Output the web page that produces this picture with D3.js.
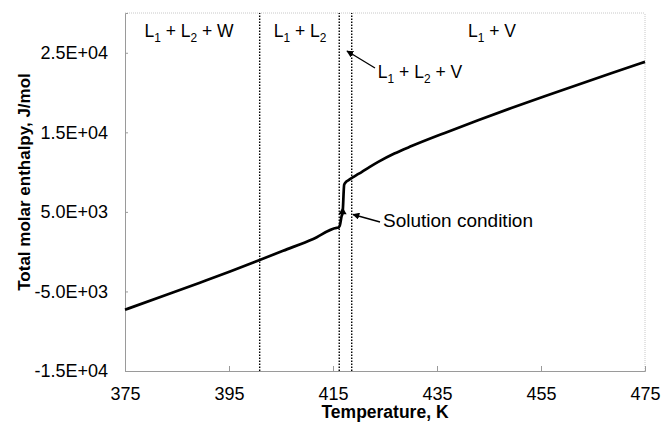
<!DOCTYPE html>
<html>
<head>
<meta charset="utf-8">
<script src="https://cdn.jsdelivr.net/npm/d3@7"></script>
<style>
  html, body { margin: 0; padding: 0; background: #fff; }
  svg { display: block; font-family: "Liberation Sans", Arial, sans-serif; }
</style>
</head>
<body>
<svg id="chart" width="662" height="425"></svg>
<script>
// ---- data ----
const temperature = [375, 383, 389.4, 395.2, 400.9, 405.4, 411.2, 415.7, 416.0, 416.3, 416.65, 416.85, 417.15, 417.5, 418.0, 418.7, 419.5, 420.5, 422.0, 423.7, 426.8, 430.1, 436.5, 442.9, 449.3, 455.7, 462.1, 468.5, 475];
const enthalpy    = [-7300, -5420, -3900, -2500, -1050, 110, 1600, 3000, 3020, 3250, 4450, 4900, 8430, 8760, 9000, 9300, 9620, 10000, 10620, 11280, 12330, 13270, 14930, 16530, 18060, 19540, 20990, 22420, 23860];
const phaseBoundaries = [400.9, 416.2, 418.6];
const solutionT = [416.85];
const solutionH = [5000];
const xTicks = [375, 395, 415, 435, 455, 475];
const yTicks = [-15000, -5000, 5000, 15000, 25000];
const xDomain = [375, 475];
const yDomain = [-15000, 30000];
const xTitle = "Temperature, K";
const yTitle = "Total molar enthalpy, J/mol";

// ---- layout ----
const svg = d3.select("#chart");
const margin = { left: 125, right: 17, top: 13, bottom: 54 };
const W = 662, H = 425;
const x = d3.scaleLinear().domain(xDomain).range([margin.left, W - margin.right]);
const y = d3.scaleLinear().domain(yDomain).range([H - margin.bottom, margin.top]);

function sci(v) {
  if (v === 0) return "0.0E+00";
  const e = Math.floor(Math.log10(Math.abs(v)));
  const m = v / Math.pow(10, e);
  return m.toFixed(1) + "E" + (e < 0 ? "-" : "+") + String(Math.abs(e)).padStart(2, "0");
}

// frame (top/right light)
svg.append("line").attr("x1", x(xDomain[0])).attr("x2", x(xDomain[1]))
  .attr("y1", y(yDomain[1])).attr("y2", y(yDomain[1]))
  .attr("stroke", "#c8c8c8").attr("stroke-width", 1).attr("stroke-dasharray", "1,1");
svg.append("line").attr("x1", x(xDomain[1])).attr("x2", x(xDomain[1]))
  .attr("y1", y(yDomain[0])).attr("y2", y(yDomain[1]))
  .attr("stroke", "#c8c8c8").attr("stroke-width", 1).attr("stroke-dasharray", "1,1");

// axes
const xAxis = d3.axisBottom(x).tickValues(xTicks).tickSize(-5).tickPadding(16).tickFormat(d3.format("d"));
const yAxis = d3.axisLeft(y).tickValues(yTicks).tickSize(-3).tickPadding(17).tickFormat(sci);

const gx = svg.append("g").attr("transform", `translate(0,${y(yDomain[0])})`).call(xAxis);
const gy = svg.append("g").attr("transform", `translate(${x(xDomain[0])},0)`).call(yAxis);
[gx, gy].forEach(g => {
  g.select(".domain").attr("stroke", "#9a9a9a").attr("stroke-width", 1);
  g.selectAll(".tick line").attr("stroke", "#9a9a9a");
  g.selectAll(".tick text").attr("fill", "#000").attr("font-size", "18px")
    .attr("font-family", "Liberation Sans, Arial, sans-serif");
});

// phase boundaries
svg.append("g").selectAll("line").data(phaseBoundaries).join("line")
  .attr("x1", d => x(d)).attr("x2", d => x(d))
  .attr("y1", y(yDomain[0])).attr("y2", y(yDomain[1]))
  .attr("stroke", "#000").attr("stroke-width", 1.4).attr("stroke-dasharray", "1.5,1.5");

// enthalpy curve
const pts = temperature.map((t, i) => [t, enthalpy[i]]);
svg.append("path").datum(pts)
  .attr("d", d3.line().curve(d3.curveMonotoneX).x(d => x(d[0])).y(d => y(d[1])))
  .attr("fill", "none").attr("stroke", "#000").attr("stroke-width", 2.7)
  .attr("stroke-linejoin", "round");

// solution condition marker
svg.append("g").selectAll("path").data(solutionT.map((t, i) => [t, solutionH[i]])).join("path")
  .attr("transform", d => `translate(${x(d[0])},${y(d[1])})`)
  .attr("d", d3.symbol(d3.symbolTriangle, 28))
  .attr("fill", "#000");

// arrow marker
const defs = svg.append("defs");
defs.append("marker").attr("id", "ah").attr("viewBox", "0 0 10 10")
  .attr("refX", 9).attr("refY", 5).attr("markerWidth", 7).attr("markerHeight", 7)
  .attr("markerUnits", "userSpaceOnUse").attr("orient", "auto")
  .append("path").attr("d", "M0,0 L10,5 L0,10 z").attr("fill", "#000");

// region labels with subscripts (baseline shift carried to the next run)
function label(g, parts, size) {
  const t = g.append("text").attr("font-size", size + "px").attr("fill", "#000");
  let shift = 0;
  parts.forEach(p => {
    if (p.sub) {
      t.append("tspan").attr("font-size", (size * 0.68) + "px").attr("dy", size * 0.3 - shift).text(p.sub);
      shift = size * 0.3;
    } else {
      t.append("tspan").attr("dy", -shift).text(p.t);
      shift = 0;
    }
  });
  return t;
}
const LSZ = 17.5;
const regions = [
  { cx: 189, by: 37, parts: [{t:"L"},{sub:"1"},{t:" + L"},{sub:"2"},{t:" + W"}] },
  { cx: 300, by: 37, parts: [{t:"L"},{sub:"1"},{t:" + L"},{sub:"2"}] },
  { cx: 492, by: 37, parts: [{t:"L"},{sub:"1"},{t:" + V"}] },
  { cx: 420, by: 78, parts: [{t:"L"},{sub:"1"},{t:" + L"},{sub:"2"},{t:" + V"}] }
];
regions.forEach(r => {
  const g = svg.append("g").attr("transform", `translate(${r.cx},${r.by})`);
  label(g, r.parts, LSZ).attr("text-anchor", "middle");
});

// arrows
svg.append("line").attr("x1", 375).attr("y1", 68).attr("x2", 347).attr("y2", 51)
  .attr("stroke", "#000").attr("stroke-width", 1.3).attr("marker-end", "url(#ah)");
svg.append("line").attr("x1", 380).attr("y1", 222).attr("x2", 353).attr("y2", 214.5)
  .attr("stroke", "#000").attr("stroke-width", 1.3).attr("marker-end", "url(#ah)");
svg.append("text").attr("x", 383).attr("y", 227).attr("font-size", "19px").text("Solution condition");

// axis titles
svg.append("text").attr("x", (x(xDomain[0]) + x(xDomain[1])) / 2).attr("y", 418)
  .attr("text-anchor", "middle").attr("font-weight", "bold").attr("font-size", "17.5px").text(xTitle);
svg.append("text").attr("transform", `translate(30,182) rotate(-90)`)
  .attr("text-anchor", "middle").attr("font-weight", "bold").attr("font-size", "17px").text(yTitle);
</script>
</body>
</html>
